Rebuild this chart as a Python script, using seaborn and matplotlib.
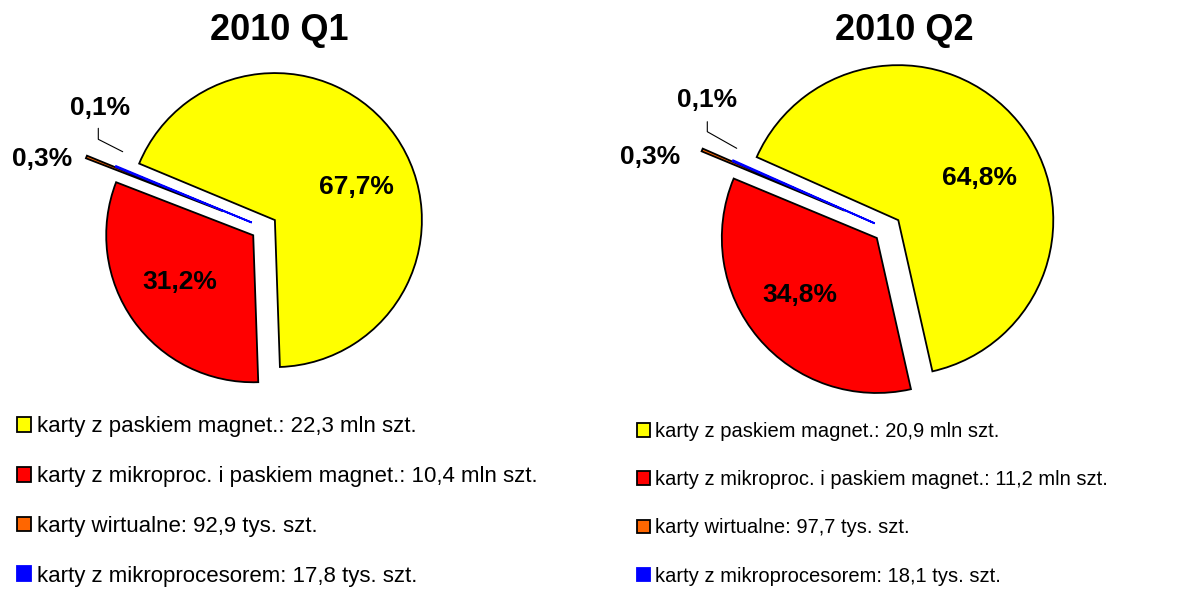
import matplotlib
matplotlib.use('Agg')
import matplotlib.pyplot as plt
import seaborn as sns

# dane
categories = ['karty z paskiem magnet.', 'karty z mikroproc. i paskiem magnet.',
              'karty wirtualne', 'karty z mikroprocesorem']
q1_pct = [67.7, 31.2, 0.3, 0.1]
q2_pct = [64.8, 34.8, 0.3, 0.1]
q1_amount = ['22,3 mln szt.', '10,4 mln szt.', '92,9 tys. szt.', '17,8 tys. szt.']
q2_amount = ['20,9 mln szt.', '11,2 mln szt.', '97,7 tys. szt.', '18,1 tys. szt.']
titles = ['2010 Q1', '2010 Q2']

colors = ['#FFFF00', '#FF0000', '#FF6600', '#0000FF']
edges = ['black', 'black', 'black', '#0000FF']
explode = [0.09, 0.09, 0.30, 0.09]

sns.set_theme(style='white')
plt.rcParams['font.family'] = ['Liberation Sans', 'DejaVu Sans']
plt.rcParams['text.color'] = 'black'

W, H = 1182, 594
fig = plt.figure(figsize=(W / 100, H / 100), dpi=100)


def fmt(v):
    return f'{v:.1f}%'.replace('.', ',')


def draw_pie(pct, amount, title, cx, cy, r, start, title_xy, big_xy, small_xy,
             leader, leg_xy, leg_fs, leg_sp):
    L = 230
    ax = fig.add_axes([(cx - L) / W, 1 - (cy + L) / H, 2 * L / W, 2 * L / H])
    wedges, _ = ax.pie(pct, colors=colors, explode=explode, startangle=start,
                       counterclock=False, radius=1,
                       wedgeprops=dict(linewidth=1.3))
    for w, ec in zip(wedges, edges):
        w.set_edgecolor(ec)
    ax.set_xlim(-L / r, L / r)
    ax.set_ylim(-L / r, L / r)
    ax.set_aspect('equal')
    ax.axis('off')

    def px(x, y):
        return (x - cx) / r, (cy - y) / r

    # etykiety procentowe
    for v, xy in zip(pct[:2], big_xy):
        ax.text(*px(*xy), fmt(v), ha='center', va='center', fontsize=19,
                fontweight='bold', color='black')
    for v, xy in zip(pct[2:], small_xy):
        ax.text(*px(*xy), fmt(v), ha='center', va='center', fontsize=19,
                fontweight='bold', color='black')
    lx, ly = zip(*[px(*p) for p in leader])
    ax.plot(lx, ly, color='black', lw=0.8)

    fig.text(title_xy[0] / W, 1 - title_xy[1] / H, title, ha='center',
             va='center', fontsize=26, fontweight='bold', color='black')

    labels = [f'{c}: {a}' for c, a in zip(categories, amount)]
    leg = fig.legend(wedges, labels, loc='upper left',
                     bbox_to_anchor=(leg_xy[0] / W, 1 - leg_xy[1] / H),
                     frameon=False, fontsize=leg_fs, borderaxespad=0, borderpad=0,
                     handlelength=0.65, handleheight=0.65, handletextpad=0.25,
                     labelspacing=leg_sp)
    for t in leg.get_texts():
        t.set_color('black')


draw_pie(q1_pct, q1_amount, titles[0], 264, 227.6, 147, 157.4,
         (279, 31), [(356.5, 187.5), (180, 281.7)],
         [(41.7, 159), (100, 108)],
         [(98.3, 128.3), (98.3, 139.3), (122.7, 151.7)],
         (17, 416), 16, 1.3)

draw_pie(q2_pct, q2_amount, titles[1], 887.5, 229, 155, 156,
         (904, 30), [(979.7, 178.3), (800, 295)],
         [(650, 157), (707.5, 100)],
         [(707.3, 121.7), (707.3, 131.7), (736.7, 148.3)],
         (637, 422), 14.5, 1.45)

fig.savefig('out.png', dpi=100, facecolor='white')
